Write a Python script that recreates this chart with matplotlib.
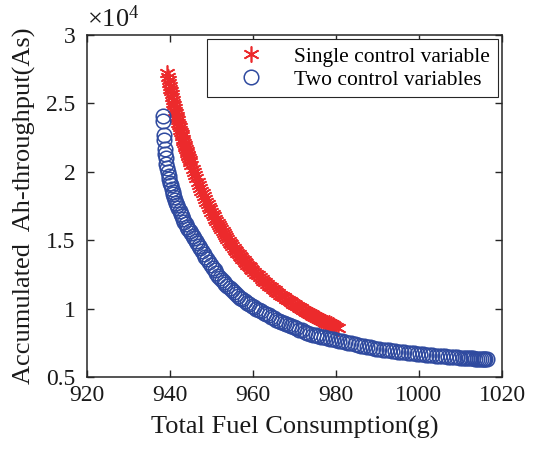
import numpy as np
import matplotlib
matplotlib.use("Agg")
import matplotlib.pyplot as plt

# ---------------- data (y in units of 1e4 As) ----------------
red_x = [939.40, 939.55, 939.70, 939.85, 940.00, 940.15, 940.30, 940.45, 940.60, 940.75,
         940.90, 941.05, 941.20, 941.35, 941.50, 941.65, 941.80, 941.95, 942.10, 942.25,
         942.40, 942.55, 942.70, 942.85, 943.00, 943.15, 943.30, 943.45, 943.60, 943.75,
         943.90, 944.05, 944.20, 944.35, 944.50, 944.65, 944.80, 944.95,
         945.2, 945.5, 945.8, 946.1, 946.4, 946.7, 947.0, 947.3, 947.6, 947.9,
         948.2, 948.5, 948.8, 949.1, 949.4, 949.7, 950.0, 950.3, 950.6, 950.9,
         951.2, 951.5, 951.8, 952.1, 952.4, 952.7, 953.0, 953.3, 953.6, 953.9,
         954.2, 954.5, 954.8, 955.1, 955.4, 955.7, 956.0, 956.3, 956.6, 956.9,
         957.2, 957.5, 957.8, 958.1, 958.4, 958.7, 959.0, 959.3, 959.6, 959.9,
         960.30, 960.75, 961.20, 961.65, 962.10, 962.55, 963.00, 963.45, 963.90, 964.35,
         964.80, 965.25, 965.70, 966.15, 966.60, 967.05, 967.50, 967.95, 968.40, 968.85,
         969.30, 969.75, 970.20, 970.65, 971.10, 971.55, 972.00, 972.45, 972.90, 973.35,
         973.80, 974.25, 974.70, 975.15, 975.60, 976.05, 976.50, 976.95, 977.40, 977.85,
         978.30, 978.75, 979.20, 979.65, 980.10, 980.55]
red_y = [2.719, 2.696, 2.674, 2.651, 2.629, 2.608, 2.587, 2.566, 2.546, 2.525,
         2.506, 2.486, 2.467, 2.448, 2.430, 2.411, 2.393, 2.376, 2.358, 2.341,
         2.324, 2.307, 2.291, 2.275, 2.259, 2.243, 2.228, 2.213, 2.198, 2.183,
         2.168, 2.154, 2.139, 2.125, 2.112, 2.098, 2.085, 2.071,
         2.050, 2.024, 1.999, 1.975, 1.952, 1.929, 1.906, 1.884, 1.863, 1.842,
         1.822, 1.802, 1.782, 1.763, 1.745, 1.727, 1.709, 1.692, 1.675, 1.658,
         1.642, 1.626, 1.610, 1.595, 1.580, 1.565, 1.550, 1.536, 1.522, 1.509,
         1.495, 1.482, 1.470, 1.457, 1.445, 1.432, 1.420, 1.409, 1.397, 1.386,
         1.375, 1.364, 1.353, 1.342, 1.332, 1.322, 1.312, 1.302, 1.292, 1.282,
         1.270, 1.256, 1.243, 1.230, 1.217, 1.204, 1.192, 1.180, 1.168, 1.157,
         1.145, 1.134, 1.123, 1.113, 1.103, 1.092, 1.082, 1.073, 1.063, 1.054,
         1.045, 1.036, 1.027, 1.018, 1.010, 1.001, 0.993, 0.985, 0.977, 0.969,
         0.962, 0.954, 0.947, 0.939, 0.932, 0.925, 0.918, 0.912, 0.905, 0.898,
         0.892, 0.886, 0.879, 0.873, 0.867, 0.861]

blue_x = [938.30, 938.35, 938.50, 938.60, 938.80, 938.90, 939.00, 939.20, 939.30, 939.50,
          939.70, 939.90, 940.10, 940.30, 940.50, 940.70, 940.90, 941.10, 941.35, 941.60,
          941.85, 942.10, 942.35, 942.60, 942.90, 943.20, 943.50, 943.80, 944.10, 944.45,
          944.80, 945.15, 945.50, 945.85, 946.20, 946.60, 947.00, 947.40, 947.80, 948.20,
          948.60, 949.00, 949.45, 949.90, 950.35, 950.80, 951.20, 951.60, 952.05, 952.50,
          952.95, 953.40, 953.90, 954.40, 954.90, 955.40, 955.90, 956.40, 956.95, 957.50,
          958.05, 958.60, 959.15, 959.70, 960.25, 960.80, 961.40, 962.00, 962.60, 963.20,
          963.80, 964.40, 965.00, 965.60, 966.20, 966.80, 967.40, 968.00, 968.60, 969.20,
          969.85, 970.50, 971.15, 971.80, 972.45, 973.10, 973.75, 974.40, 975.10, 975.80,
          976.50, 977.20, 977.90, 978.60, 979.30, 980.00, 980.75, 981.50, 982.25, 983.00,
          983.75, 984.50, 985.25, 986.00, 986.75, 987.50, 988.25, 989.00, 989.75, 990.50,
          991.25, 992.00, 992.75, 993.50, 994.25, 995.00, 995.75, 996.50, 997.25, 998.00,
          998.75, 999.50, 1000.25, 1001.00, 1001.75, 1002.50, 1003.25, 1004.00, 1004.75, 1005.50,
          1006.25, 1007.00, 1007.75, 1008.50, 1009.25, 1010.00, 1010.50, 1011.00, 1011.50, 1012.00,
          1012.50, 1013.00, 1013.50, 1014.00, 1014.50, 1015.00, 1015.40, 1015.70, 1016.00, 1016.30]
blue_y = [2.410, 2.370, 2.270, 2.230, 2.170, 2.130, 2.100, 2.060, 2.030, 2.000,
          1.970, 1.950, 1.920, 1.900, 1.875, 1.855, 1.835, 1.815, 1.795, 1.775,
          1.755, 1.735, 1.715, 1.695, 1.675, 1.655, 1.635, 1.620, 1.600, 1.585,
          1.565, 1.550, 1.530, 1.515, 1.495, 1.480, 1.460, 1.440, 1.420, 1.400,
          1.380, 1.360, 1.340, 1.320, 1.300, 1.280, 1.260, 1.240, 1.225, 1.210,
          1.195, 1.180, 1.165, 1.150, 1.135, 1.120, 1.105, 1.090, 1.080, 1.070,
          1.055, 1.040, 1.030, 1.020, 1.010, 1.000, 0.990, 0.980, 0.970, 0.960,
          0.950, 0.940, 0.930, 0.920, 0.910, 0.900, 0.892, 0.885, 0.877, 0.870,
          0.862, 0.855, 0.847, 0.840, 0.832, 0.825, 0.817, 0.810, 0.805, 0.800,
          0.795, 0.790, 0.785, 0.780, 0.775, 0.770, 0.765, 0.760, 0.755, 0.750,
          0.745, 0.740, 0.735, 0.730, 0.725, 0.720, 0.716, 0.712, 0.708, 0.705,
          0.701, 0.698, 0.695, 0.692, 0.689, 0.686, 0.683, 0.680, 0.678, 0.675,
          0.672, 0.670, 0.667, 0.665, 0.662, 0.660, 0.658, 0.656, 0.654, 0.652,
          0.650, 0.648, 0.646, 0.645, 0.643, 0.642, 0.641, 0.640, 0.639, 0.638,
          0.637, 0.636, 0.635, 0.634, 0.633, 0.632, 0.631, 0.631, 0.630, 0.630]

labels = ["Single control variable", "Two control variables"]
x_ticks = [920, 940, 960, 980, 1000, 1020]
y_ticks = [0.5, 1, 1.5, 2, 2.5, 3]
y_tick_labels = ["0.5", "1", "1.5", "2", "2.5", "3"]
x_label = "Total Fuel Consumption(g)"
y_label = "Accumulated  Ah-throughput(As)"
exponent_label = r"$\times10^{4}$"

# ---------------- style ----------------
plt.rcParams['font.family'] = ['Liberation Serif', 'DejaVu Serif']
plt.rcParams['mathtext.fontset'] = 'custom'
plt.rcParams['mathtext.rm'] = 'Liberation Serif'
plt.rcParams['mathtext.it'] = 'Liberation Serif:italic'

red = '#EC2A2C'
blue = '#2F4A9F'
dark = '#262626'
textc = '#1a1a1a'

fig = plt.figure(figsize=(5.38, 4.53), dpi=100)
ax = fig.add_axes([86.7 / 538, 1 - 377 / 453, (502 - 86.7) / 538, (377 - 35) / 453])

ax.plot(red_x, red_y, linestyle='none', marker=(6, 2, 0),
        markersize=11.5, markeredgewidth=1.2, color=red, label=labels[0])
ax.plot(blue_x, blue_y, linestyle='none', marker='o',
        markersize=10.5, markerfacecolor='none', markeredgewidth=1.1,
        color=blue, label=labels[1])

ax.set_xlim(920, 1020)
ax.set_ylim(0.5, 3)
ax.set_xticks(x_ticks)
ax.set_xticklabels([str(t) for t in x_ticks])
ax.set_yticks(y_ticks)
ax.set_yticklabels(y_tick_labels)

ax.tick_params(axis='both', direction='in', top=True, right=True, labelsize=17,
               length=5, width=1.0, colors=dark, labelcolor=textc)
ax.tick_params(axis='x', pad=6)
ax.tick_params(axis='y', pad=8)
for sp in ax.spines.values():
    sp.set_linewidth(1.1)
    sp.set_color(dark)

ax.set_xlabel(x_label, fontsize=19, labelpad=7, color=textc)
ax.set_ylabel(y_label, fontsize=19, labelpad=7, color=textc)

ax.text(0.0, 1.01, exponent_label, transform=ax.transAxes, fontsize=19,
        ha='left', va='bottom', color=textc)

leg = ax.legend(loc='upper right', fontsize=15.5, frameon=True, fancybox=False,
                edgecolor=dark, borderaxespad=0.2, handletextpad=0.3,
                handlelength=3.4, borderpad=0.35, labelspacing=0.12,
                numpoints=1, framealpha=1)
leg.get_frame().set_linewidth(0.8)

fig.savefig('out.png', dpi=100)
